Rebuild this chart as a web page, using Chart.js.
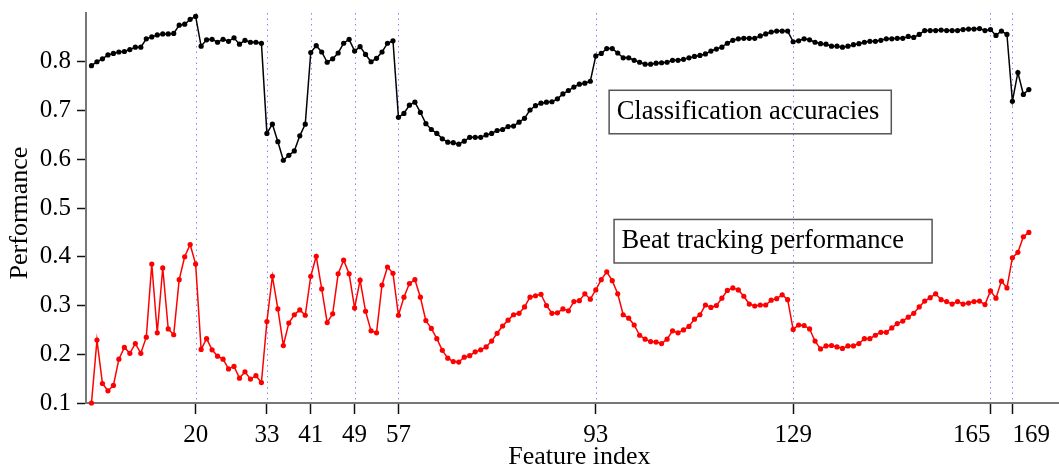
<!DOCTYPE html>
<html>
<head>
<meta charset="utf-8">
<script src="https://cdn.jsdelivr.net/npm/chart.js@4/dist/chart.umd.min.js"></script>
<style>
  html, body { margin: 0; padding: 0; background: #fff; }
  #wrap { width: 1059px; height: 466px; }
</style>
</head>
<body>
<div id="wrap"><canvas id="perf-chart" width="1059" height="466"></canvas></div>
<script>
// ── Data (feature index 1..172) ───────────────────────────────────────────────
const accuracy = [
  0.792, 0.800, 0.806, 0.814, 0.817, 0.820, 0.821, 0.825, 0.830, 0.830,
  0.847, 0.851, 0.855, 0.857, 0.857, 0.858, 0.875, 0.877, 0.887, 0.893,
  0.832, 0.845, 0.846, 0.840, 0.846, 0.842, 0.849, 0.836, 0.844, 0.840,
  0.840, 0.838, 0.653, 0.672, 0.636, 0.598, 0.608, 0.617, 0.648, 0.672,
  0.819, 0.833, 0.820, 0.799, 0.806, 0.818, 0.838, 0.846, 0.822, 0.831,
  0.815, 0.800, 0.807, 0.820, 0.838, 0.843, 0.686, 0.694, 0.711, 0.717,
  0.696, 0.673, 0.661, 0.653, 0.642, 0.635, 0.634, 0.631, 0.637, 0.645,
  0.645, 0.645, 0.650, 0.653, 0.659, 0.661, 0.667, 0.668, 0.676, 0.684,
  0.701, 0.710, 0.715, 0.717, 0.718, 0.724, 0.734, 0.741, 0.748, 0.754,
  0.756, 0.760, 0.812, 0.817, 0.827, 0.827, 0.818, 0.808, 0.808, 0.803,
  0.799, 0.795, 0.795, 0.797, 0.798, 0.799, 0.803, 0.803, 0.805, 0.808,
  0.811, 0.813, 0.816, 0.822, 0.826, 0.830, 0.838, 0.844, 0.847, 0.848,
  0.848, 0.848, 0.853, 0.857, 0.861, 0.863, 0.863, 0.863, 0.841, 0.843,
  0.847, 0.845, 0.840, 0.837, 0.836, 0.832, 0.832, 0.830, 0.832, 0.835,
  0.837, 0.840, 0.842, 0.842, 0.844, 0.847, 0.847, 0.848, 0.848, 0.852,
  0.850, 0.856, 0.864, 0.864, 0.864, 0.865, 0.864, 0.864, 0.864, 0.866,
  0.867, 0.867, 0.868, 0.864, 0.866, 0.854, 0.863, 0.856, 0.719, 0.778,
  0.733, 0.743,
];

const beatTracking = [
  0.100, 0.229, 0.140, 0.125, 0.136, 0.190, 0.214, 0.202, 0.222, 0.202,
  0.235, 0.385, 0.244, 0.377, 0.252, 0.240, 0.353, 0.400, 0.425, 0.385,
  0.210, 0.232, 0.209, 0.196, 0.190, 0.170, 0.175, 0.151, 0.164, 0.149,
  0.156, 0.142, 0.267, 0.360, 0.293, 0.218, 0.264, 0.281, 0.291, 0.280,
  0.360, 0.401, 0.334, 0.265, 0.283, 0.365, 0.393, 0.365, 0.295, 0.352,
  0.288, 0.248, 0.244, 0.342, 0.379, 0.366, 0.280, 0.317, 0.345, 0.353,
  0.317, 0.269, 0.253, 0.232, 0.208, 0.192, 0.185, 0.184, 0.194, 0.197,
  0.205, 0.209, 0.215, 0.227, 0.243, 0.258, 0.270, 0.281, 0.284, 0.297,
  0.317, 0.320, 0.323, 0.300, 0.284, 0.285, 0.293, 0.289, 0.308, 0.310,
  0.324, 0.313, 0.332, 0.353, 0.369, 0.351, 0.324, 0.281, 0.274, 0.260,
  0.239, 0.231, 0.226, 0.225, 0.222, 0.231, 0.248, 0.244, 0.250, 0.257,
  0.272, 0.281, 0.301, 0.296, 0.300, 0.315, 0.331, 0.336, 0.332, 0.319,
  0.303, 0.299, 0.301, 0.301, 0.311, 0.314, 0.322, 0.312, 0.251, 0.260,
  0.259, 0.252, 0.227, 0.211, 0.217, 0.218, 0.215, 0.212, 0.217, 0.217,
  0.222, 0.232, 0.232, 0.239, 0.245, 0.245, 0.254, 0.263, 0.268, 0.276,
  0.284, 0.297, 0.309, 0.316, 0.324, 0.312, 0.308, 0.303, 0.308, 0.303,
  0.305, 0.308, 0.309, 0.302, 0.330, 0.315, 0.350, 0.336, 0.398, 0.409,
  0.441, 0.450,
];

const featureTicks = [20, 33, 41, 49, 57, 93, 129, 165, 169];   // marked features
const perfTicks    = [0.1, 0.2, 0.3, 0.4, 0.5, 0.6, 0.7, 0.8];
const seriesLabels = ['Classification accuracies', 'Beat tracking performance'];
const xTitle = 'Feature index';
const yTitle = 'Performance';

const SERIF = '"Liberation Serif", "Times New Roman", serif';
const EN = '\u2002';

// point index i -> feature index i + 1
const _pts = arr => arr.map((v, i) => ({ x: i + 1, y: v }));

// 165 and 169 sit close together: push the labels apart like the original
function _featureLabel(v) {
  if (v === 165) return '165' + EN.repeat(3);
  if (v === 169) return EN.repeat(3) + '169';
  return String(v);
}

// ── Decorations: dotted feature markers, text boxes, axis titles ──────────────
const decorPlugin = {
  id: 'decor',
  beforeDatasetsDraw(chart) {
    const { ctx, chartArea, scales: { x } } = chart;
    ctx.save();
    ctx.strokeStyle = 'rgba(110,110,255,0.85)';
    ctx.lineWidth = 1;
    ctx.setLineDash([1.5, 4]);
    featureTicks.forEach(v => {
      const px = Math.round(x.getPixelForValue(v)) + 0.5;
      ctx.beginPath();
      ctx.moveTo(px, chartArea.top);
      ctx.lineTo(px, chartArea.bottom);
      ctx.stroke();
    });
    ctx.restore();
  },
  afterDatasetsDraw(chart) {
    const { ctx, chartArea, scales: { x, y } } = chart;
    ctx.save();
    ctx.font = `26.5px ${SERIF}`;
    ctx.fillStyle = '#000';
    ctx.textBaseline = 'alphabetic';

    // text boxes: [label, left feature, baseline value, box right pad]
    const boxes = [
      [seriesLabels[0], 96.8, 0.682, 12],
      [seriesLabels[1], 97.7, 0.417, 28],
    ];
    boxes.forEach(([txt, fx, fy, padR]) => {
      const tx = x.getPixelForValue(fx);
      const ty = y.getPixelForValue(fy);
      const w  = ctx.measureText(txt).width;
      ctx.fillText(txt, tx, ty);
      ctx.strokeStyle = '#555';
      ctx.lineWidth = 1.5;
      ctx.strokeRect(tx - 7.5, ty - 29, w + 7.5 + padR, 43.5);
    });

    // axis titles
    ctx.font = `26px ${SERIF}`;
    ctx.textAlign = 'center';
    ctx.fillText(xTitle, x.getPixelForValue(90), 464);
    ctx.translate(27, (chartArea.top + chartArea.bottom) / 2 + 5);
    ctx.rotate(-Math.PI / 2);
    ctx.fillText(yTitle, 0, 0);
    ctx.restore();
  },
};

const _tickFont = { family: SERIF, size: 25 };

new Chart(document.getElementById('perf-chart'), {
  type: 'line',
  data: {
    datasets: [
      {
        label:           seriesLabels[0],
        data:            _pts(accuracy),
        borderColor:     '#000',
        backgroundColor: '#000',
        borderWidth:     1.5,
        pointRadius:     2.6,
        pointBorderWidth: 0,
        tension:         0,
        clip:            false,
      },
      {
        label:           seriesLabels[1],
        data:            _pts(beatTracking),
        borderColor:     '#ff0000',
        backgroundColor: '#ff0000',
        borderWidth:     1.5,
        pointRadius:     2.6,
        pointBorderWidth: 0,
        tension:         0,
        clip:            false,
      },
    ],
  },
  options: {
    responsive: false,
    animation: false,
    devicePixelRatio: 1,
    layout: { autoPadding: false, padding: { top: 13, left: 0, right: 0, bottom: 0 } },
    plugins: { legend: { display: false }, tooltip: { enabled: false } },
    scales: {
      x: {
        type: 'linear',
        min: 0,
        max: 177.5,
        afterBuildTicks: s => { s.ticks = featureTicks.map(v => ({ value: v })); },
        afterFit: s => { s.height = 63; s.paddingLeft = 0; s.paddingRight = 0; },
        grid: { display: true, drawOnChartArea: false, drawTicks: true, tickLength: 11, tickColor: '#111', tickWidth: 1.5 },
        border: { display: true, color: '#777', width: 2 },
        ticks: { font: _tickFont, color: '#000', padding: 6, maxRotation: 0, autoSkip: false, callback: _featureLabel },
      },
      y: {
        min: 0.1,
        max: 0.9,
        afterBuildTicks: s => { s.ticks = perfTicks.map(v => ({ value: v })); },
        afterFit: s => { s.width = 86; s.paddingTop = 0; s.paddingBottom = 0; },
        grid: { display: true, drawOnChartArea: false, drawTicks: true, tickLength: 9, tickColor: '#111', tickWidth: 1.5 },
        border: { display: true, color: '#777', width: 2 },
        ticks: { font: _tickFont, color: '#000', padding: 6, callback: v => v.toFixed(1) },
      },
    },
  },
  plugins: [decorPlugin],
});
</script>
</body>
</html>
